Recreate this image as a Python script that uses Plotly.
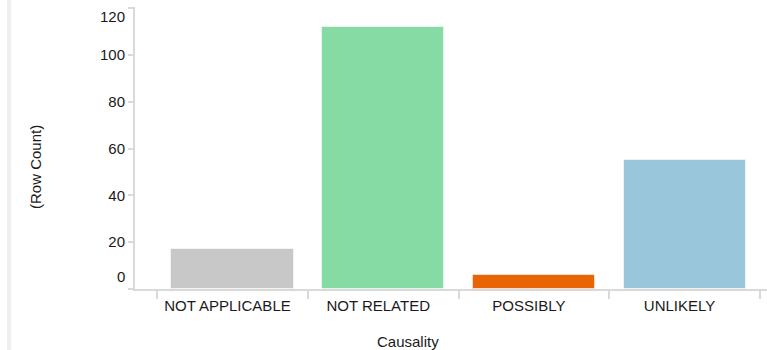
import plotly.graph_objects as go

# Row counts per causality category
categories = ["NOT APPLICABLE", "NOT RELATED", "POSSIBLY", "UNLIKELY"]
row_counts = [17, 112, 6, 55]
bar_colors = ["#c8c8c8", "#86daa3", "#e86405", "#9ac6dc"]

y_tick_vals = [0, 20, 40, 60, 80, 100, 120]
y_tick_labels = ["0", "20", "40", "60", "80", "100", "120"]

x_title = "Causality"
y_title = "(Row Count)"

FONT = "Liberation Sans, Arial, sans-serif"
TXT = "#1a1a1a"
AXIS = "#d9d9d9"

W, H = 767, 350
ML, MR, MT, MB = 135, 0, 7, 61
plot_w = W - ML - MR
plot_h = H - MT - MB

fig = go.Figure(
    go.Bar(
        x=categories,
        y=row_counts,
        width=0.81,
        marker=dict(color=bar_colors, line=dict(color="rgba(255,255,255,0.55)", width=1)),
        hoverinfo="x+y",
    )
)

# end labels are nudged inward so they stay clear of the axis ends
inner_labels = [t if v not in (y_tick_vals[0], y_tick_vals[-1]) else "" for v, t in zip(y_tick_vals, y_tick_labels)]

fig.update_layout(
    width=W,
    height=H,
    margin=dict(l=ML, r=MR, t=MT, b=MB),
    paper_bgcolor="white",
    plot_bgcolor="white",
    showlegend=False,
    font=dict(family=FONT, size=15, color=TXT),
    bargap=0,
    xaxis=dict(
        type="category",
        range=[-0.647, 3.547],
        showgrid=False,
        zeroline=False,
        showline=True,
        linecolor=AXIS,
        linewidth=2,
        ticks="outside",
        tickson="boundaries",
        ticklen=8,
        tickwidth=2,
        tickcolor=AXIS,
        ticklabelshift=-5,
        ticklabelstandoff=2,
        tickfont=dict(family=FONT, size=15, color=TXT),
        fixedrange=True,
    ),
    yaxis=dict(
        range=[0, 120.6],
        tickvals=y_tick_vals,
        ticktext=inner_labels,
        showgrid=False,
        zeroline=False,
        showline=True,
        linecolor=AXIS,
        linewidth=2,
        ticks="outside",
        ticklen=5,
        tickwidth=2,
        tickcolor=AXIS,
        tickfont=dict(family=FONT, size=15, color=TXT),
        fixedrange=True,
    ),
)

# first and last y labels, shifted inside the axis span
for v, t, shift in [(y_tick_vals[0], y_tick_labels[0], 13), (y_tick_vals[-1], y_tick_labels[-1], -8)]:
    fig.add_annotation(
        x=0, xref="paper", y=v, yref="y",
        text=t, showarrow=False,
        xanchor="right", yanchor="middle",
        xshift=-8, yshift=shift,
        font=dict(family=FONT, size=15, color=TXT),
    )

# axis titles
fig.add_annotation(
    x=(408 - ML) / plot_w, xref="paper", y=-(341 - MT - plot_h) / plot_h, yref="paper",
    text=x_title, showarrow=False, xanchor="center", yanchor="middle",
    font=dict(family=FONT, size=15, color=TXT),
)
fig.add_annotation(
    x=(35 - ML) / plot_w, xref="paper", y=1 - (167 - MT) / plot_h, yref="paper",
    text=y_title, showarrow=False, xanchor="center", yanchor="middle", textangle=-90,
    font=dict(family=FONT, size=15, color=TXT),
)

# light panel border on the left
bx = (9 - ML) / plot_w
fig.add_shape(
    type="line", xref="paper", yref="paper",
    x0=bx, x1=bx, y0=-(MB + 5) / plot_h, y1=1 + (MT + 5) / plot_h,
    line=dict(color="#eeeeee", width=4),
)

fig.write_html("out.html")
